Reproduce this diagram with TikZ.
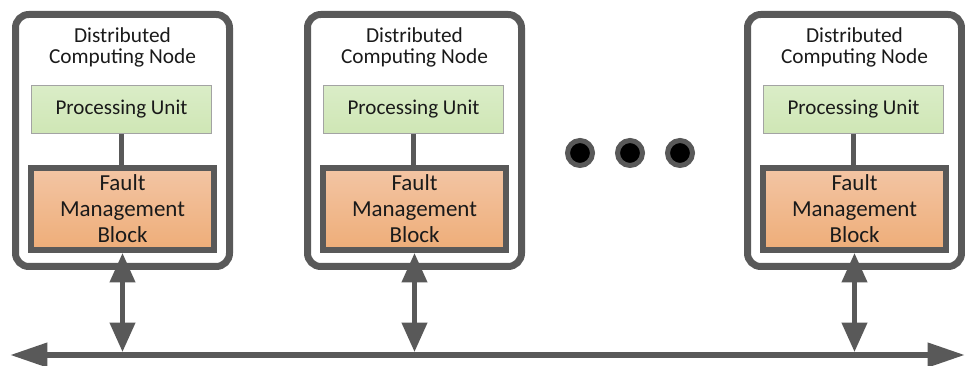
\documentclass[tikz,border=0pt]{standalone}
\usepackage{fontspec}
\setmainfont{Carlito}
\usetikzlibrary{arrows.meta}
\definecolor{frame}{HTML}{595959}
\definecolor{puTop}{HTML}{DAEDC7}
\definecolor{puBot}{HTML}{CFE6B5}
\definecolor{puLine}{HTML}{A3A3A3}
\definecolor{fmbTop}{HTML}{F3C5A4}
\definecolor{fmbBot}{HTML}{EEAD78}
\definecolor{ink}{HTML}{1A1A1A}
\begin{document}
\begin{tikzpicture}[x=0.75pt,y=-0.75pt,
  nodebox/.style={draw=frame, line width=5.25pt, rounded corners=10pt,
    minimum width=214*0.75pt, minimum height=252*0.75pt,
    inner sep=0pt, anchor=north west},
  title/.style={text=ink, align=center, inner sep=0pt,
    font=\fontsize{16}{15.75}\selectfont},
  unitbox/.style={draw=puLine, line width=0.75pt, top color=puTop, bottom color=puBot,
    minimum width=180*0.75pt, minimum height=48*0.75pt, inner sep=0pt,
    anchor=north west, text=ink, font=\fontsize{15.8}{18}\selectfont},
  fmbbox/.style={draw=frame, line width=4.5pt, top color=fmbTop, bottom color=fmbBot,
    minimum width=183*0.75pt, minimum height=82*0.75pt, inner sep=0pt,
    anchor=north west, align=center, text=ink, font=\fontsize{17.2}{19.5}\selectfont},
  tie/.style={draw=frame, line width=4.2pt},
  link/.style={draw=frame, line width=3.75pt,
    {Triangle[length=22pt,width=18.5pt]}-{Triangle[length=22pt,width=18.5pt]}},
  bus/.style={draw=frame, line width=4.5pt,
    {Triangle[length=28pt,width=17.5pt]}-{Triangle[length=28pt,width=17.5pt]}},
  dot/.style={circle, draw=frame, fill=black, line width=3.75pt,
    minimum size=25*0.75pt, inner sep=0pt}]
\useasboundingbox (0,0) rectangle (965,366);

% shared bus along the bottom
\coordinate (busL) at (10,355);
\coordinate (busR) at (965,355);
\draw[bus] (busL) -- (busR);

% computing nodes
\foreach \i/\x in {1/12, 2/304, 3/744}{
  \node[nodebox] (box\i) at (\x,11) {};
  \node[title] (title\i) at (\x+110.5,47) {Distributed\\Computing Node};
  \node[unitbox] (pu\i) at (\x+19,85) {Processing Unit};
  \node[fmbbox] (fmb\i) at (\x+16,165) {Fault\\Management\\Block};
  \draw[tie] (pu\i.south) -- (pu\i.south |- fmb\i.north);
  \draw[link, shorten >=2.25pt] (fmb\i.south) -- (fmb\i.south |- busL);
}

% ellipsis between the second and last node
\node[dot] (d1) at (580,153) {};
\node[dot] (d2) at (630,153) {};
\node[dot] (d3) at (680,153) {};
\end{tikzpicture}
\end{document}
